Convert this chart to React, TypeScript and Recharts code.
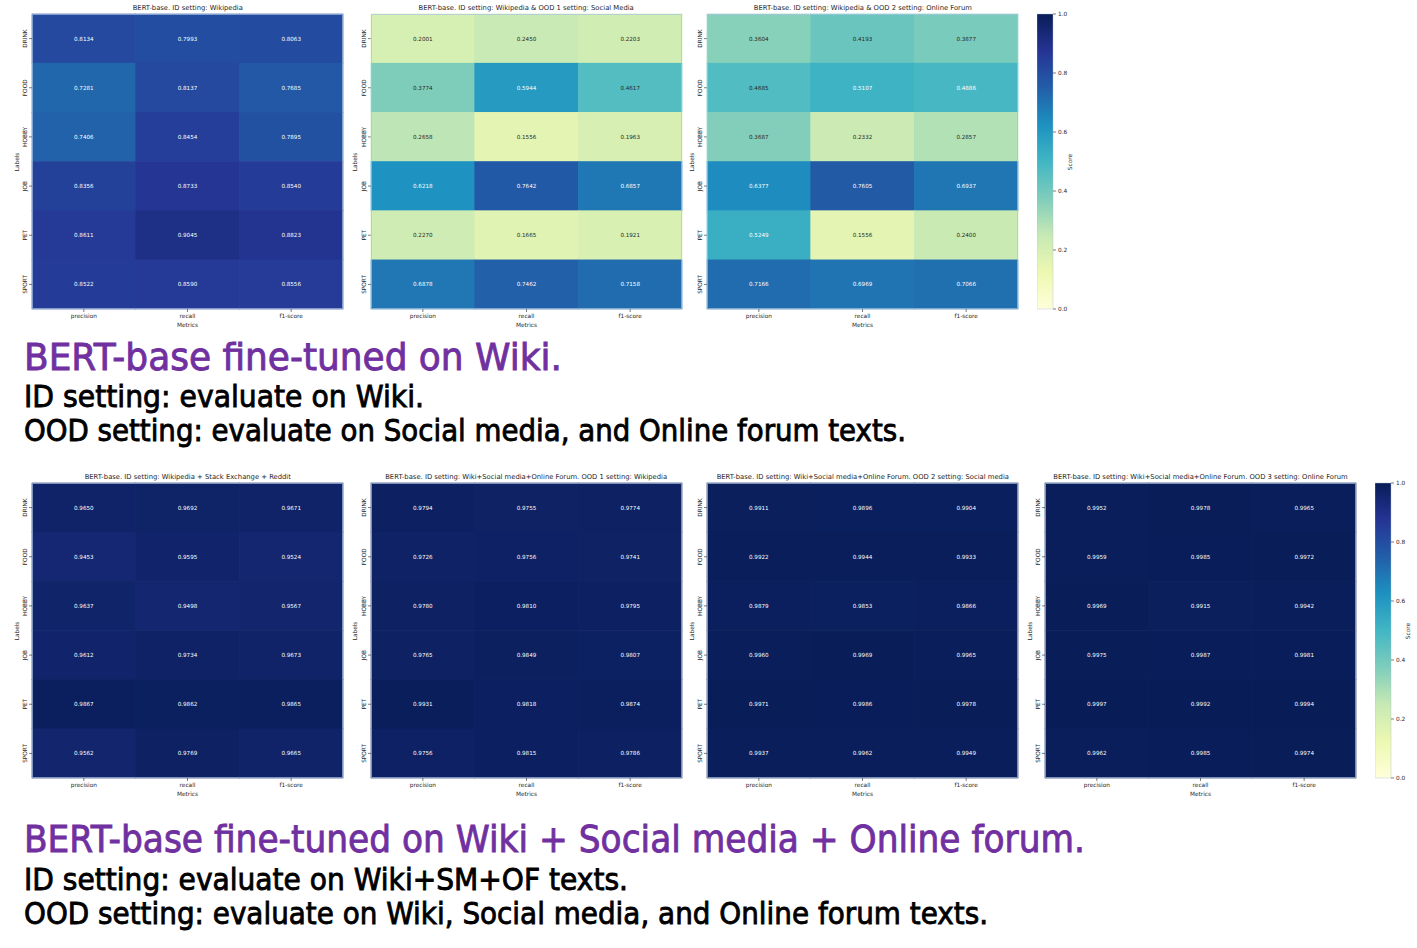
import { ScatterChart, Scatter, XAxis, YAxis, BarChart, Bar } from "recharts";

// categories
const metrics = ["precision", "recall", "f1-score"];
const labels = ["DRINK", "FOOD", "HOBBY", "JOB", "PET", "SPORT"];
const cbTicks = [0, 0.2, 0.4, 0.6, 0.8, 1.0];

// scores, rows = labels, cols = metrics
const wikiId = [
  [0.8134, 0.7993, 0.8063],
  [0.7281, 0.8137, 0.7685],
  [0.7406, 0.8454, 0.7895],
  [0.8356, 0.8733, 0.854],
  [0.8611, 0.9045, 0.8823],
  [0.8522, 0.859, 0.8556],
];
const wikiOodSocial = [
  [0.2001, 0.245, 0.2203],
  [0.3774, 0.5944, 0.4617],
  [0.2658, 0.1556, 0.1963],
  [0.6218, 0.7642, 0.6857],
  [0.227, 0.1665, 0.1921],
  [0.6878, 0.7462, 0.7158],
];
const wikiOodForum = [
  [0.3604, 0.4193, 0.3877],
  [0.4685, 0.5107, 0.4886],
  [0.3687, 0.2332, 0.2857],
  [0.6377, 0.7605, 0.6937],
  [0.5249, 0.1556, 0.24],
  [0.7166, 0.6969, 0.7066],
];
const mixId = [
  [0.965, 0.9692, 0.9671],
  [0.9453, 0.9595, 0.9524],
  [0.9637, 0.9498, 0.9567],
  [0.9612, 0.9734, 0.9673],
  [0.9867, 0.9862, 0.9865],
  [0.9562, 0.9769, 0.9665],
];
const mixOodWiki = [
  [0.9794, 0.9755, 0.9774],
  [0.9726, 0.9756, 0.9741],
  [0.978, 0.981, 0.9795],
  [0.9765, 0.9849, 0.9807],
  [0.9931, 0.9818, 0.9874],
  [0.9756, 0.9815, 0.9786],
];
const mixOodSocial = [
  [0.9911, 0.9896, 0.9904],
  [0.9922, 0.9944, 0.9933],
  [0.9879, 0.9853, 0.9866],
  [0.996, 0.9969, 0.9965],
  [0.9971, 0.9986, 0.9978],
  [0.9937, 0.9962, 0.9949],
];
const mixOodForum = [
  [0.9952, 0.9978, 0.9965],
  [0.9959, 0.9985, 0.9972],
  [0.9969, 0.9915, 0.9942],
  [0.9975, 0.9987, 0.9981],
  [0.9997, 0.9992, 0.9994],
  [0.9962, 0.9985, 0.9974],
];

// YlGnBu (matplotlib)
const ylgnbu = [
  [255, 255, 217],
  [237, 248, 177],
  [199, 233, 180],
  [127, 205, 187],
  [65, 182, 196],
  [29, 145, 192],
  [34, 94, 168],
  [37, 52, 148],
  [8, 29, 88],
];

function cmap(v: number) {
  const t = Math.max(0, Math.min(1, v)) * (ylgnbu.length - 1);
  const i = Math.min(Math.floor(t), ylgnbu.length - 2);
  const f = t - i;
  return ylgnbu[i].map((c, k) => c + (ylgnbu[i + 1][k] - c) * f);
}

function textColor(rgb: number[]) {
  const lin = rgb.map((c) => {
    const s = c / 255;
    return s <= 0.03928 ? s / 12.92 : Math.pow((s + 0.055) / 1.055, 2.4);
  });
  const l = 0.2126 * lin[0] + 0.7152 * lin[1] + 0.0722 * lin[2];
  return l > 0.408 ? "#262626" : "#ffffff";
}

const PW = 311;
const PH = 295;
const YW = 30;
const TOP = 14;
const XH = 20;
const INK = "#262626";
const FONT = '"DejaVu Sans", sans-serif';

function YTick(props: any) {
  const { x, y, payload } = props;
  return (
    <text
      x={x}
      y={y}
      transform={`rotate(-90, ${x}, ${y})`}
      textAnchor="middle"
      fontSize={5.8}
      fill={INK}
      fontFamily={FONT}
    >
      {payload.value}
    </text>
  );
}

function Heatmap({ left, top, title, scores }: { left: number; top: number; title: string; scores: number[][] }) {
  const data = labels.flatMap((label, i) =>
    metrics.map((metric, j) => ({ label, metric, score: scores[i][j] }))
  );
  const cw = PW / 3;
  const ch = PH / 6;

  const cell = (p: any) => {
    const { cx, cy, payload } = p;
    const rgb = cmap(payload.score);
    const fill = `rgb(${rgb.join(",")})`;
    return (
      <g>
        <rect
          x={cx - cw / 2 - 0.3}
          y={cy - ch / 2 - 0.3}
          width={cw + 0.6}
          height={ch + 0.6}
          fill={fill}
        />
        <text x={cx} y={cy} dy="0.35em" textAnchor="middle" fontSize={5.6} fill={textColor(rgb)} fontFamily={FONT}>
          {payload.score.toFixed(4)}
        </text>
      </g>
    );
  };

  return (
    <div style={{ position: "absolute", left: left - YW, top: top - TOP }}>
      <div
        style={{
          position: "absolute",
          left: YW - 40,
          width: PW + 80,
          top: 3,
          textAlign: "center",
          fontSize: 6.8,
          lineHeight: "10px",
          color: INK,
          whiteSpace: "nowrap",
        }}
      >
        {title}
      </div>
      <div
        style={{
          position: "absolute",
          left: YW - 15.5,
          top: TOP + PH / 2,
          transform: "translate(-50%, -50%) rotate(-90deg)",
          fontSize: 5.8,
          color: INK,
        }}
      >
        Labels
      </div>
      <ScatterChart
        width={YW + PW + 2}
        height={TOP + PH + XH}
        margin={{ top: TOP, right: 2, bottom: 0, left: 0 }}
      >
        <XAxis
          type="category"
          dataKey="metric"
          allowDuplicatedCategory={false}
          height={XH}
          tickSize={3}
          axisLine={false}
          tickLine={{ stroke: INK, strokeWidth: 0.6 }}
          tick={{ fontSize: 5.8, fill: INK, fontFamily: FONT }}
          label={{ value: "Metrics", position: "insideBottom", offset: 2, fontSize: 5.8, fill: INK, fontFamily: FONT }}
        />
        <YAxis
          type="category"
          dataKey="label"
          allowDuplicatedCategory={false}
          reversed
          width={YW}
          tickSize={3}
          axisLine={false}
          tickLine={{ stroke: INK, strokeWidth: 0.6 }}
          tick={<YTick />}
        />
        <Scatter data={data} shape={cell} isAnimationActive={false} />
      </ScatterChart>
      <div
        style={{
          position: "absolute",
          left: YW,
          top: TOP,
          width: PW,
          height: PH,
          boxSizing: "border-box",
          border: "0.8px solid rgba(170,195,225,0.7)",
          pointerEvents: "none",
        }}
      />
    </div>
  );
}

function ColorBar({ left, top, id }: { left: number; top: number; id: string }) {
  const pad = 5;
  return (
    <div style={{ position: "absolute", left, top: top - pad }}>
      <BarChart
        width={16 + 30}
        height={PH + 2 * pad}
        data={[{ name: "Score", value: 1 }]}
        margin={{ top: pad, right: 0, bottom: pad, left: 0 }}
        barCategoryGap={0}
      >
        <defs>
          <linearGradient id={id} x1="0" y1="1" x2="0" y2="0">
            {ylgnbu.map((c, i) => (
              <stop key={i} offset={i / (ylgnbu.length - 1)} stopColor={`rgb(${c.join(",")})`} />
            ))}
          </linearGradient>
        </defs>
        <XAxis dataKey="name" hide />
        <YAxis
          type="number"
          orientation="right"
          domain={[0, 1]}
          ticks={cbTicks}
          width={30}
          tickSize={3}
          axisLine={false}
          tickLine={{ stroke: INK, strokeWidth: 0.6 }}
          tickFormatter={(v: number) => v.toFixed(1)}
          tick={{ fontSize: 5.8, fill: INK, fontFamily: FONT }}
        />
        <Bar dataKey="value" fill={`url(#${id})`} stroke="rgba(170,190,220,0.8)" strokeWidth={0.5} isAnimationActive={false} />
      </BarChart>
      <div
        style={{
          position: "absolute",
          left: 16 + 17.3,
          top: pad + PH / 2,
          transform: "translate(-50%, -50%) rotate(-90deg)",
          fontSize: 5.8,
          color: INK,
        }}
      >
        Score
      </div>
    </div>
  );
}

const captions = [
  { text: "BERT-base fine-tuned on Wiki.", y: 370, size: 38, len: 538, color: "#7030a0" },
  { text: "ID setting: evaluate on Wiki.", y: 407, size: 31, len: 400, color: "#000" },
  { text: "OOD setting: evaluate on Social media, and Online forum texts.", y: 441, size: 31, len: 882, color: "#000" },
  { text: "BERT-base fine-tuned on Wiki + Social media + Online forum.", y: 852, size: 38, len: 1061, color: "#7030a0" },
  { text: "ID setting: evaluate on Wiki+SM+OF texts.", y: 890, size: 31, len: 604, color: "#000" },
  { text: "OOD setting: evaluate on Wiki, Social media, and Online forum texts.", y: 924, size: 31, len: 964, color: "#000" },
];

const plotLefts = [32.3, 370.7, 707.3, 1045];

export default function App() {
  return (
    <div
      style={{
        position: "absolute",
        left: 0,
        top: 0,
        width: 1417,
        height: 948,
        background: "#fff",
        fontFamily: FONT,
        overflow: "hidden",
      }}
    >
      <Heatmap left={plotLefts[0]} top={14.3} title="BERT-base. ID setting: Wikipedia" scores={wikiId} />
      <Heatmap left={plotLefts[1]} top={14.3} title="BERT-base. ID setting: Wikipedia & OOD 1 setting: Social Media" scores={wikiOodSocial} />
      <Heatmap left={plotLefts[2]} top={14.3} title="BERT-base. ID setting: Wikipedia & OOD 2 setting: Online Forum" scores={wikiOodForum} />
      <ColorBar left={1036.7} top={14.3} id="cb-top" />

      <Heatmap left={plotLefts[0]} top={483.3} title="BERT-base. ID setting: Wikipedia + Stack Exchange + Reddit" scores={mixId} />
      <Heatmap left={plotLefts[1]} top={483.3} title="BERT-base. ID setting: Wiki+Social media+Online Forum. OOD 1 setting: Wikipedia" scores={mixOodWiki} />
      <Heatmap left={plotLefts[2]} top={483.3} title="BERT-base. ID setting: Wiki+Social media+Online Forum. OOD 2 setting: Social media" scores={mixOodSocial} />
      <Heatmap left={plotLefts[3]} top={483.3} title="BERT-base. ID setting: Wiki+Social media+Online Forum. OOD 3 setting: Online Forum" scores={mixOodForum} />
      <ColorBar left={1375} top={483.3} id="cb-bottom" />

      <svg width={1417} height={948} style={{ position: "absolute", left: 0, top: 0, pointerEvents: "none" }}>
        {captions.map((c) => (
          <text
            key={c.text}
            x={24}
            y={c.y}
            fontSize={c.size}
            fill={c.color}
            stroke={c.color}
            strokeWidth={0.9}
            fontFamily='"Comic Sans MS", "DejaVu Sans", sans-serif'
            textLength={c.len}
            lengthAdjust="spacingAndGlyphs"
          >
            {c.text}
          </text>
        ))}
      </svg>
    </div>
  );
}
